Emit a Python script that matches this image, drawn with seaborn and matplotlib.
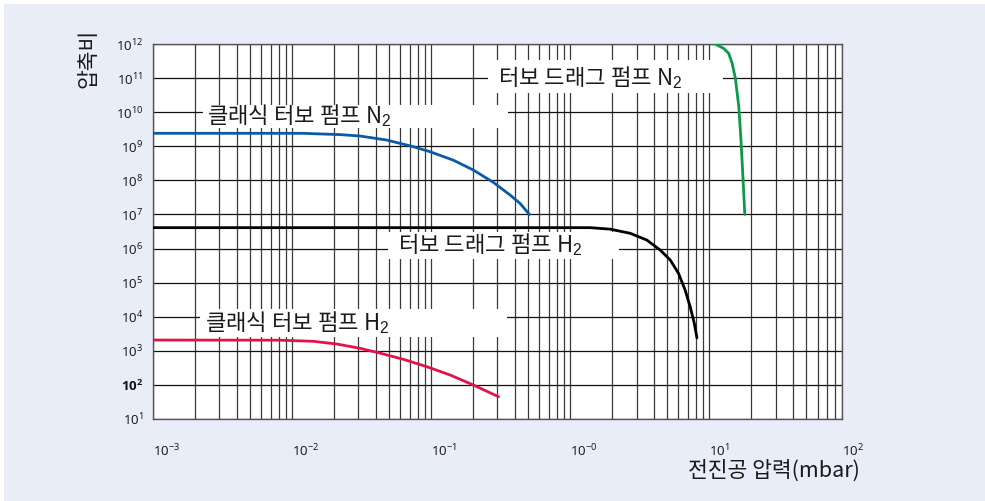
import numpy as np
import pandas as pd
import matplotlib
matplotlib.use("Agg")
import matplotlib.pyplot as plt
from matplotlib.patches import Rectangle
from matplotlib.ticker import LogLocator, NullFormatter, NullLocator, FixedLocator, FixedFormatter
import seaborn as sns

# ---------------- data ----------------
classic_n2_p = [0.001, 0.012, 0.0159, 0.0221, 0.0308, 0.048, 0.0746, 0.0984, 0.1446, 0.2014, 0.2805, 0.370, 0.436, 0.509]
classic_n2_k = [2.4e9, 2.4e9, 2.3e9, 2.2e9, 2.0e9, 1.52e9, 9.7e8, 6.9e8, 3.9e8, 2.0e8, 8.7e7, 3.7e7, 2.1e7, 1.0e7]

classic_h2_p = [0.001, 0.0082, 0.01423, 0.0210, 0.0309, 0.0418, 0.0632, 0.0931, 0.137, 0.2014, 0.305]
classic_h2_k = [2.07e3, 2.05e3, 1.9e3, 1.58e3, 1.18e3, 879, 562, 342, 195, 99, 45]

drag_h2_p = [0.001, 1.39, 1.94, 2.70, 3.56, 4.44, 5.24, 6.01, 6.71, 7.29, 7.80, 8.15]
drag_h2_k = [4.1e6, 4.1e6, 3.7e6, 2.8e6, 1.77e6, 9.0e5, 4.6e5, 1.87e5, 6.0e4, 1.95e4, 6.4e3, 2.4e3]

drag_n2_p = [10.5, 11.0, 12.7, 13.8, 14.6, 15.4, 16.3, 16.9, 17.4, 18.0]
drag_n2_k = [1.1e12, 1.0e12, 7.4e11, 5.3e11, 2.7e11, 9.8e10, 1.45e10, 1.5e9, 1.6e8, 1.0e7]

series_names = ["classic_n2", "classic_h2", "drag_h2", "drag_n2"]
series_colors = ["#0b5aa6", "#e2134b", "#000000", "#0a9a48"]

label_texts = ["클래식 터보 펌프 N$_2$", "터보 드래그 펌프 N$_2$", "터보 드래그 펌프 H$_2$", "클래식 터보 펌프 H$_2$"]

xtick_values = [1e-3, 1e-2, 1e-1, 1e0, 1e1, 1e2]
xtick_labels = [r"$\mathregular{10^{-3}}$", r"$\mathregular{10^{-2}}$", r"$\mathregular{10^{-1}}$",
                r"$\mathregular{10^{-0}}$", r"$\mathregular{10^{1}}$", r"$\mathregular{10^{2}}$"]
ytick_exps = list(range(1, 13))
ytick_labels = [r"$\mathregular{10^{%d}}$" % e for e in ytick_exps]

x_label = "전진공 압력(mbar)"
y_label = "압축비"

X_MIN, X_MAX = 1e-3, 90.0
Y_MIN, Y_MAX = 1e1, 1e12

# ---------------- styling ----------------
sns.set_theme(style="white")
plt.rcParams["font.family"] = ["Noto Sans CJK KR", "DejaVu Sans"]
plt.rcParams["mathtext.fontset"] = "custom"
plt.rcParams["mathtext.rm"] = "Liberation Sans"
plt.rcParams["mathtext.it"] = "Liberation Sans:italic"
plt.rcParams["mathtext.bf"] = "Liberation Sans:bold"

BG = "#e9edf8"
fig = plt.figure(figsize=(9.85, 5.01), dpi=100)
fig.patch.set_facecolor("white")
fig.add_artist(Rectangle((4 / 985, 0), 1, (501 - 4) / 501, transform=fig.transFigure,
                         facecolor=BG, edgecolor="none", zorder=-10))
ax = fig.add_axes([153 / 985, 82 / 501, 689 / 985, 375 / 501])
ax.set_facecolor("white")
ax.set_xscale("log")
ax.set_yscale("log")

frames = []
for name, p, k in [("classic_n2", classic_n2_p, classic_n2_k),
                   ("classic_h2", classic_h2_p, classic_h2_k),
                   ("drag_h2", drag_h2_p, drag_h2_k),
                   ("drag_n2", drag_n2_p, drag_n2_k)]:
    frames.append(pd.DataFrame({"p": p, "k": k, "series": name}))
df = pd.concat(frames, ignore_index=True)

sns.lineplot(data=df, x="p", y="k", hue="series", hue_order=series_names,
             palette=dict(zip(series_names, series_colors)), estimator=None,
             sort=True, lw=2.0, legend=False, ax=ax, zorder=3)

ax.set_xlim(X_MIN, X_MAX)
ax.set_ylim(Y_MIN, Y_MAX)

# ticks & grid
xpos = [min(v, X_MAX) for v in xtick_values]
ax.xaxis.set_major_locator(FixedLocator(xpos))
ax.xaxis.set_major_formatter(FixedFormatter(xtick_labels))
ax.xaxis.set_minor_locator(LogLocator(base=10, subs=np.arange(2, 10), numticks=60))
ax.xaxis.set_minor_formatter(NullFormatter())
ax.yaxis.set_major_locator(FixedLocator([10.0 ** e for e in ytick_exps]))
ax.yaxis.set_major_formatter(FixedFormatter(ytick_labels))
ax.yaxis.set_minor_locator(NullLocator())

ax.grid(True, which="both", axis="x", color="#3a3a3a", lw=0.9)
ax.grid(True, which="major", axis="y", color="#111111", lw=0.9)
ax.set_axisbelow(True)
ax.tick_params(which="both", length=0)
ax.tick_params(axis="x", pad=17)
ax.tick_params(axis="y", pad=7)
for t in ax.get_xticklabels() + ax.get_yticklabels():
    t.set_fontfamily("Open Sans")
    t.set_fontsize(9.5)
    t.set_color("#111111")
for t in ax.get_xticklabels():
    t.set_ha("left")
ax.get_yticklabels()[1].set_fontweight("bold")

for s in ax.spines.values():
    s.set_color("#555555")
    s.set_linewidth(1.0)

# label boxes (white patches covering the grid) and curve labels
box_specs = [(-2.638, -0.444, 9.534, 10.208),
             (-0.590, 1.101, 10.56, 11.528),
             (-1.307, 0.348, 5.683, 6.493),
             (-2.662, -0.455, 3.405, 4.226)]
text_specs = [(-2.611, 9.886), (-0.516, 11.015), (-1.235, 6.103), (-2.626, 3.815)]
for (x0, x1, y0, y1), (tx, ty), txt in zip(box_specs, text_specs, label_texts):
    ax.add_patch(Rectangle((10 ** x0, 10 ** y0), 10 ** x1 - 10 ** x0, 10 ** y1 - 10 ** y0,
                           facecolor="white", edgecolor="none", zorder=2.5))
    ax.text(10 ** tx, 10 ** ty, txt, fontsize=16, ha="left", va="center",
            color="#1a1a1a", zorder=4)

ax.set_xlabel(x_label, fontsize=15.5, ha="right", va="center", color="#1a1a1a")
ax.xaxis.set_label_coords(1.026, -0.139)
ax.set_ylabel(y_label, fontsize=15.5, ha="center", va="center", color="#1a1a1a")
ax.yaxis.set_label_coords(-0.094, 0.963)

fig.savefig("out.png", dpi=100, facecolor=fig.get_facecolor())
